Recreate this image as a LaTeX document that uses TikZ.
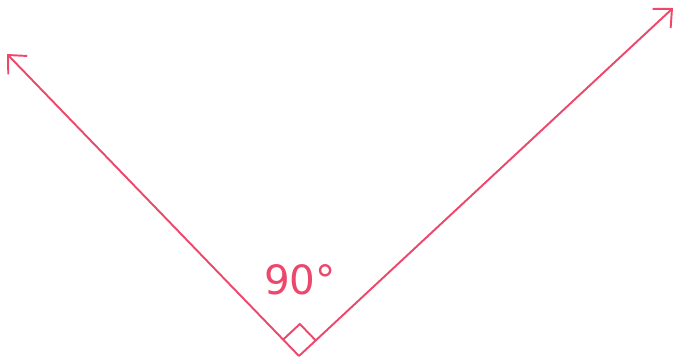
\documentclass[tikz,border=0pt]{standalone}
\usepackage{fontspec}
\setmainfont{DejaVu Sans}
\usetikzlibrary{arrows.meta,calc}
\definecolor{penred}{RGB}{236,72,108}
\begin{document}
\begin{tikzpicture}[x=0.02cm,y=-0.02cm]
    \useasboundingbox (0,0) rectangle (677,362);
    
    \coordinate (O) at (299,356);
    \coordinate (A) at (7,54);
    \coordinate (B) at (673,8);
    
    \draw[penred, line width=1.1pt, -{Straight Barb[length=8pt,width=15pt]}] (O) -- (A);
    \draw[penred, line width=1.1pt, -{Straight Barb[length=8pt,width=15pt]}] (O) -- (B);
    
    % right angle mark
    \coordinate (P) at ($(O)!13pt!(A)$);
    \coordinate (Q) at ($(O)!13pt!(B)$);
    \draw[penred, line width=1.1pt] (P) -- ($(P)+(Q)-(O)$) -- (Q);
    
    \node[penred, font=\fontsize{23}{27}\selectfont] (ang) at (300,280) {90°};
    
\end{tikzpicture}
\end{document}
